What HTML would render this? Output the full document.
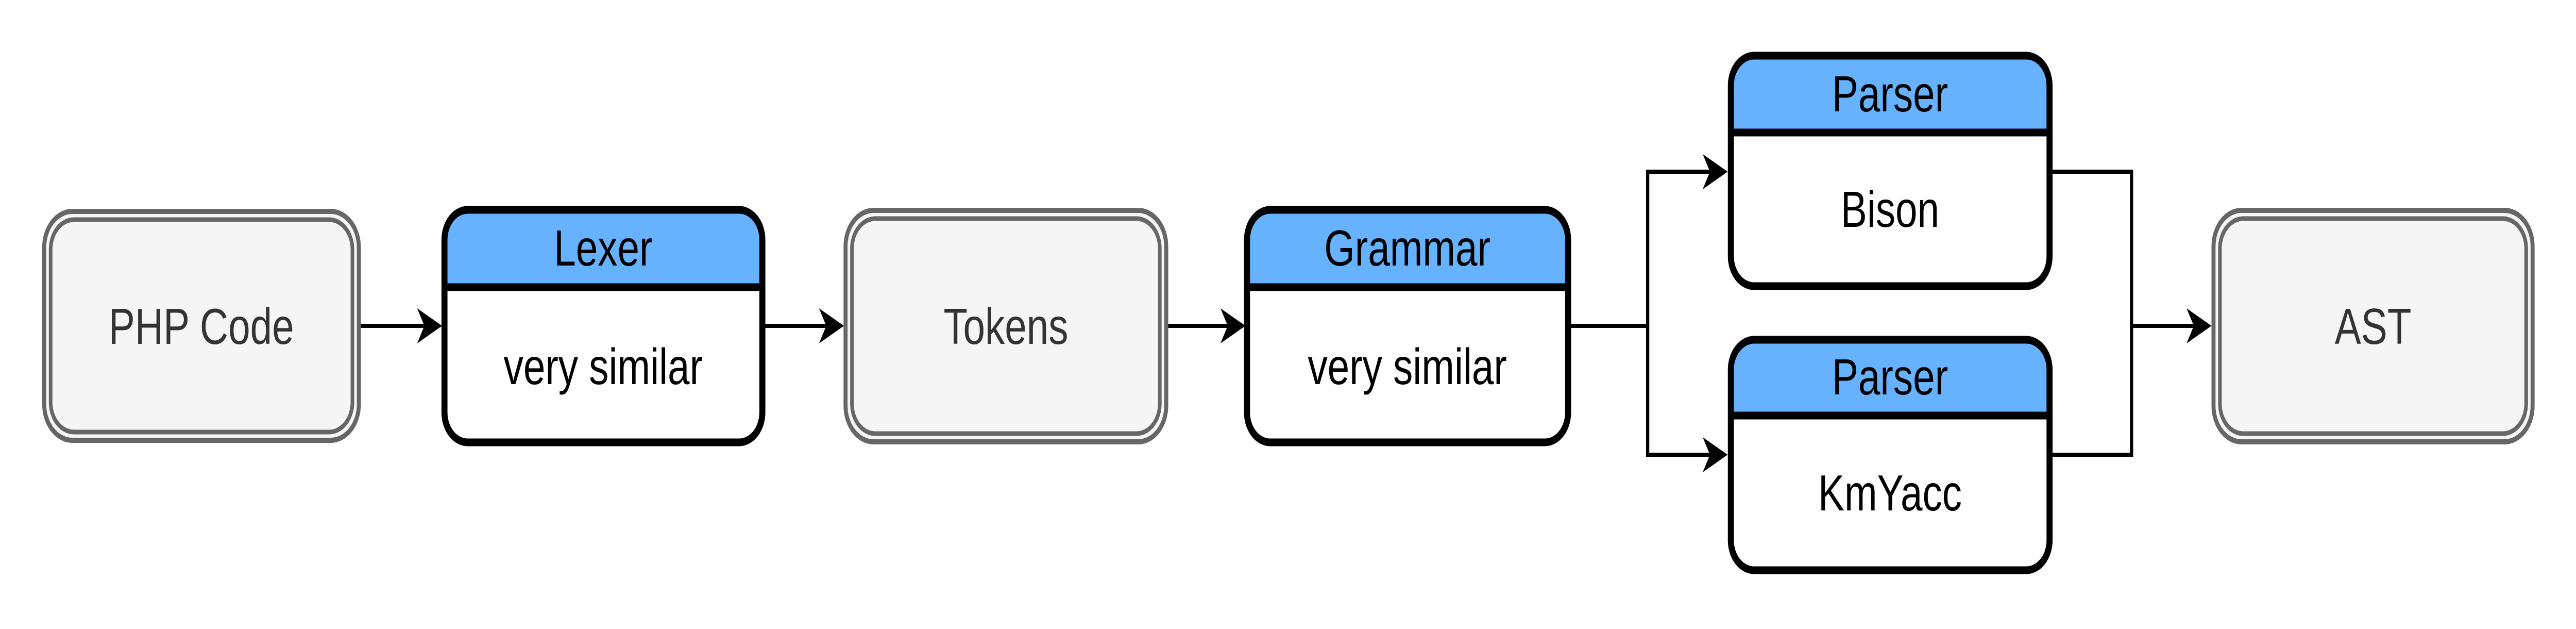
<!DOCTYPE html>
<html><head><meta charset="utf-8"><style>
html,body{margin:0;padding:0;background:#fff;width:100%;height:100%;overflow:hidden;}
svg{display:block;position:absolute;left:0;top:0;width:100%;height:100%;}
text{font-family:"Liberation Sans",sans-serif;text-anchor:middle;}
</style></head><body>
<svg width="100%" height="100%" viewBox="0 0 6410 1220" preserveAspectRatio="none" xmlns="http://www.w3.org/2000/svg">
<defs>
<path id="ah" d="M0,0 L-62,-34 L-44,0 L-62,34 Z" fill="#000"/>
</defs>
<g fill="#f5f5f5" stroke="#666">
  <rect x="110" y="410" width="783" height="444" rx="70" stroke-width="10"/>
  <rect x="126" y="426" width="751" height="412" rx="58" stroke-width="9"/>
  <rect x="2104" y="408" width="798" height="449" rx="70" stroke-width="10"/>
  <rect x="2120" y="424" width="766" height="417" rx="58" stroke-width="9"/>
  <rect x="5508" y="408" width="794" height="449" rx="70" stroke-width="10"/>
  <rect x="5524" y="424" width="762" height="417" rx="58" stroke-width="9"/>
</g>
<g font-size="98" fill="#333">
  <text x="501" y="667">PHP Code</text>
  <text x="2503" y="667">Tokens</text>
  <text x="5905" y="667">AST</text>
</g>
<g>
  <rect x="1106" y="407" width="791" height="451" rx="58" fill="#fff"/>
  <path d="M1106,557 V465 A58,58 0 0 1 1164,407 H1839 A58,58 0 0 1 1897,465 V557 Z" fill="#66b2ff"/>
  <rect x="1106" y="407" width="791" height="451" rx="58" fill="none" stroke="#000" stroke-width="15"/>
  <line x1="1106" y1="557" x2="1897" y2="557" stroke="#000" stroke-width="15"/>
  <rect x="3103" y="407" width="799" height="451" rx="58" fill="#fff"/>
  <path d="M3103,557 V465 A58,58 0 0 1 3161,407 H3844 A58,58 0 0 1 3902,465 V557 Z" fill="#66b2ff"/>
  <rect x="3103" y="407" width="799" height="451" rx="58" fill="none" stroke="#000" stroke-width="15"/>
  <line x1="3103" y1="557" x2="3902" y2="557" stroke="#000" stroke-width="15"/>
  <rect x="4307" y="108" width="793" height="447" rx="58" fill="#fff"/>
  <path d="M4307,257 V166 A58,58 0 0 1 4365,108 H5042 A58,58 0 0 1 5100,166 V257 Z" fill="#66b2ff"/>
  <rect x="4307" y="108" width="793" height="447" rx="58" fill="none" stroke="#000" stroke-width="15"/>
  <line x1="4307" y1="257" x2="5100" y2="257" stroke="#000" stroke-width="15"/>
  <rect x="4307" y="659" width="793" height="447" rx="58" fill="#fff"/>
  <path d="M4307,806 V717 A58,58 0 0 1 4365,659 H5042 A58,58 0 0 1 5100,717 V806 Z" fill="#66b2ff"/>
  <rect x="4307" y="659" width="793" height="447" rx="58" fill="none" stroke="#000" stroke-width="15"/>
  <line x1="4307" y1="806" x2="5100" y2="806" stroke="#000" stroke-width="15"/>
</g>
<g font-size="98" fill="#000">
  <text x="1501" y="515">Lexer</text>
  <text x="1501" y="745">very similar</text>
  <text x="3502" y="515">Grammar</text>
  <text x="3502" y="745">very similar</text>
  <text x="4703" y="216">Parser</text>
  <text x="4703" y="440">Bison</text>
  <text x="4703" y="765">Parser</text>
  <text x="4703" y="990">KmYacc</text>
</g>
<g stroke="#000" stroke-width="8" fill="none">
  <line x1="898" y1="632" x2="1060" y2="632"/>
  <line x1="1904" y1="632" x2="2060" y2="632"/>
  <line x1="2907" y1="632" x2="3060" y2="632"/>
  <polyline points="3909,632 4100,632"/>
  <polyline points="4260,333 4100,333 4100,882 4260,882"/>
  <polyline points="5107,333 5304,333 5304,882 5107,882"/>
  <line x1="5304" y1="632" x2="5465" y2="632"/>
</g>
<use href="#ah" x="1100" y="632"/>
<use href="#ah" x="2100" y="632"/>
<use href="#ah" x="3099" y="632"/>
<use href="#ah" x="4299" y="333"/>
<use href="#ah" x="4299" y="882"/>
<use href="#ah" x="5503" y="632"/>
</svg>
</body></html>
